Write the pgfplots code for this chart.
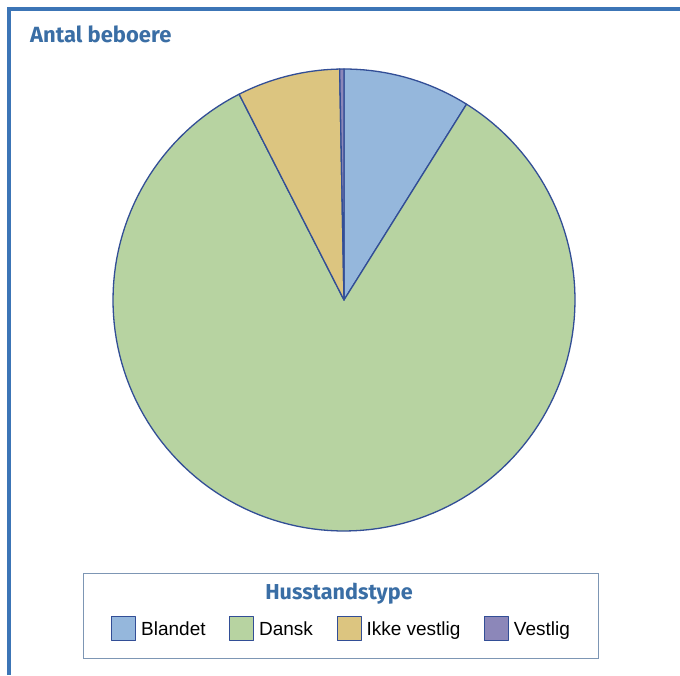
\documentclass[border=0pt]{standalone}
\usepackage{fontspec}
\setmainfont{Liberation Sans}
\newfontfamily\titlefont{Fira Sans}
\usepackage{pgfplots}
\pgfplotsset{compat=1.18}
\definecolor{cBl}{RGB}{149,183,220}
\definecolor{cDa}{RGB}{183,211,161}
\definecolor{cIk}{RGB}{220,197,128}
\definecolor{cVe}{RGB}{140,135,185}
\definecolor{edge}{RGB}{50,78,150}
\definecolor{ttl}{RGB}{58,110,165}
\definecolor{framec}{RGB}{60,117,182}
\definecolor{lbox}{RGB}{125,150,180}
% shares in percent
\def\vBl{8.9}
\def\vDa{83.6}
\def\vIk{7.2}
\def\vVe{0.3}
\begin{document}
\begin{tikzpicture}
\useasboundingbox (0,0) rectangle (680pt,675pt);
\fill[white] (0,0) rectangle (680pt,675pt);
\draw[framec, line width=3.5pt] (9pt,0pt) -- (9pt,666pt) -- (680pt,666pt);
\node[anchor=base west, inner sep=0pt, font=\titlefont\bfseries\fontsize{22pt}{22pt}\selectfont, text=ttl] at (30pt,632pt) {Antal beboere};
\draw[lbox, line width=1pt] (83pt,17pt) rectangle (598pt,102pt);
\node[anchor=base, inner sep=0pt, font=\titlefont\bfseries\fontsize{21.6pt}{22pt}\selectfont, text=ttl] at (339pt,76pt) {Husstandstype};
\pgfmathsetmacro\aA{0}
\pgfmathsetmacro\aB{\vBl*3.6}
\pgfmathsetmacro\aC{(\vBl+\vDa)*3.6}
\pgfmathsetmacro\aD{(\vBl+\vDa+\vIk)*3.6}
\pgfmathsetmacro\aE{(\vBl+\vDa+\vIk+\vVe)*3.6}
\begin{axis}[at={(344pt,375pt)}, anchor=center, width=462pt, height=462pt,
  scale only axis, hide axis, clip=false,
  xmin=-1, xmax=1, ymin=-1, ymax=1,
  legend columns=4,
  legend style={at={(-0.0043,-0.2121)}, anchor=west, draw=none, fill=none,
    inner sep=0pt, font=\fontsize{19pt}{19pt}\selectfont, column sep=5pt,
    /tikz/every even column/.append style={column sep=23.5pt},
    cells={anchor=base west}, nodes={inner sep=0pt}},
  legend image code/.code={\draw[#1, line width=1pt] (0pt,-5.2pt) rectangle (24pt,18.8pt);},
  every axis plot/.append style={draw=edge, line width=1.3pt, line join=round},
]
\addplot[fill=cBl, domain=\aA:\aB, samples=20] ({sin(x)},{cos(x)}) -- (0,0) -- cycle;
\addlegendentry{Blandet}
\addplot[fill=cDa, domain=\aB:\aC, samples=150] ({sin(x)},{cos(x)}) -- (0,0) -- cycle;
\addlegendentry{Dansk}
\addplot[fill=cIk, domain=\aC:\aD, samples=20] ({sin(x)},{cos(x)}) -- (0,0) -- cycle;
\addlegendentry{Ikke vestlig}
\addplot[fill=cVe, domain=\aD:\aE, samples=3] ({sin(x)},{cos(x)}) -- (0,0) -- cycle;
\addlegendentry{Vestlig}
\end{axis}
\end{tikzpicture}
\end{document}
